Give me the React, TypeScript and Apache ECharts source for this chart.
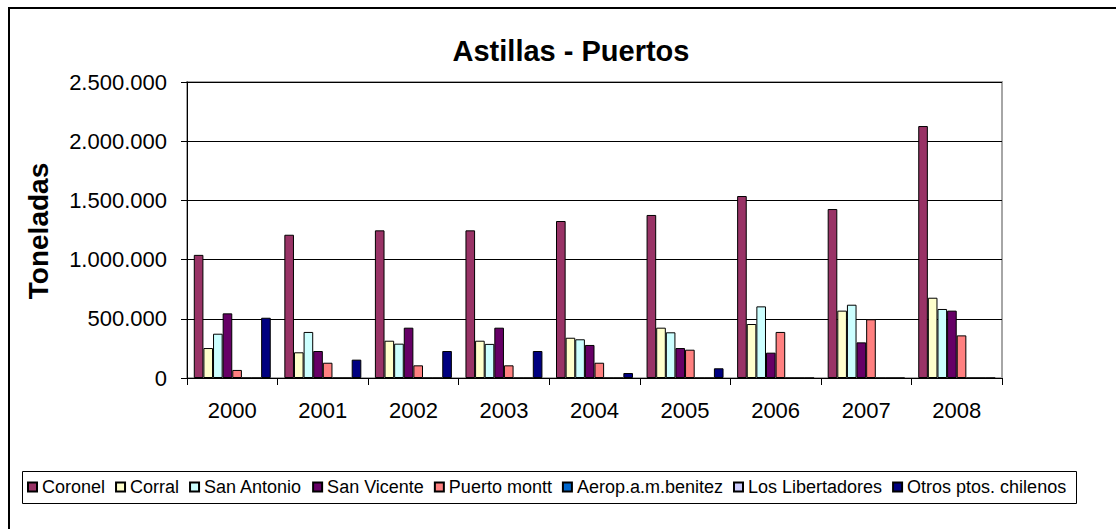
import React, { useEffect, useRef } from "react";
import * as echarts from "echarts";

const years = ["2000", "2001", "2002", "2003", "2004", "2005", "2006", "2007", "2008"];
const coronel = [1040000, 1210000, 1247000, 1247000, 1326000, 1377000, 1537000, 1427000, 2128000];
const corral = [253000, 217000, 315000, 315000, 340000, 425000, 456000, 569000, 678000];
const sanAntonio = [374000, 389000, 290000, 288000, 327000, 386000, 605000, 619000, 583000];
const sanVicente = [546000, 228000, 425000, 425000, 279000, 253000, 214000, 301000, 569000];
const puertoMontt = [68000, 129000, 107000, 107000, 129000, 239000, 389000, 496000, 360000];
const aerop = [0, 0, 0, 0, 0, 0, 0, 0, 0];
const losLibertadores = [0, 0, 0, 0, 0, 0, 0, 0, 0];
const otros = [509000, 155000, 228000, 228000, 42000, 82000, 0, 0, 0];

const seriesNames = [
  "Coronel",
  "Corral",
  "San Antonio",
  "San Vicente",
  "Puerto montt",
  "Aerop.a.m.benitez",
  "Los Libertadores",
  "Otros ptos. chilenos",
];
const seriesData = [coronel, corral, sanAntonio, sanVicente, puertoMontt, aerop, losLibertadores, otros];
const seriesColors = ["#993366", "#FFFFCC", "#CCFFFF", "#660066", "#FF8080", "#0066CC", "#CCCCFF", "#000080"];

const FONT = '"Liberation Sans", Arial, sans-serif';

function fmt(v: number): string {
  return String(Math.round(v)).replace(/\B(?=(\d{3})+(?!\d))/g, ".");
}

export default function App() {
  const ref = useRef<HTMLDivElement>(null);
  useEffect(() => {
    if (!ref.current) return;
    const chart = echarts.init(ref.current, undefined, { renderer: "svg" });
    chart.setOption({
      animation: false,
      backgroundColor: "#ffffff",
      textStyle: { fontFamily: FONT },
      title: {
        text: "Astillas - Puertos",
        left: 566,
        textAlign: "center",
        top: 31,
        textStyle: { fontFamily: FONT, fontSize: 29, fontWeight: "bold", color: "#000" },
      },
      grid: {
        left: 187,
        right: 114,
        top: 82,
        bottom: 151,
        show: true,
        borderColor: "#a6a6a6",
        borderWidth: 2,
        backgroundColor: "transparent",
      },
      legend: {
        left: 27,
        top: 478,
        itemWidth: 9,
        itemHeight: 9,
        itemGap: 10,
        icon: "rect",
        padding: 0,
        textStyle: { fontFamily: FONT, fontSize: 18, color: "#000" },
        data: seriesNames,
      },
      xAxis: {
        type: "category",
        data: years,
        axisLine: { lineStyle: { color: "#000", width: 1 } },
        axisTick: { show: true, length: 7, lineStyle: { color: "#000" } },
        axisLabel: { fontFamily: FONT, fontSize: 22, color: "#000", margin: 21 },
        splitLine: { show: false },
      },
      yAxis: {
        type: "value",
        min: 0,
        max: 2500000,
        interval: 500000,
        axisLine: { show: true, lineStyle: { color: "#000", width: 1 } },
        axisTick: { show: true, length: 6, lineStyle: { color: "#000" } },
        axisLabel: { fontFamily: FONT, fontSize: 22, color: "#000", margin: 20, formatter: (v: number) => fmt(v) },
        splitLine: { show: true, lineStyle: { color: "#000", width: 1 } },
      },
      series: seriesNames.map((name, i) => ({
        name,
        type: "bar",
        data: seriesData[i],
        barGap: "0%",
        barCategoryGap: "15%",
        itemStyle: { color: seriesColors[i], borderColor: "#000", borderWidth: 1 },
        emphasis: { disabled: true },
      })),
      graphic: [
        {
          type: "line",
          shape: { x1: 9, y1: 7, x2: 9, y2: 529 },
          style: { stroke: "#000", lineWidth: 2 },
        },
        {
          type: "line",
          shape: { x1: 8, y1: 8, x2: 1116, y2: 8 },
          style: { stroke: "#000", lineWidth: 2 },
        },
        {
          type: "rect",
          shape: { x: 22.5, y: 471.5, width: 1054, height: 32 },
          style: { fill: "transparent", stroke: "#000", lineWidth: 1 },
          z: 10,
        },
        {
          type: "text",
          x: 38,
          y: 231,
          rotation: Math.PI / 2,
          style: {
            text: "Toneladas",
            fontFamily: FONT,
            fontSize: 28,
            fontWeight: "bold",
            fill: "#000",
            textAlign: "center",
            textVerticalAlign: "middle",
          },
        },
      ],
    });
    return () => chart.dispose();
  }, []);
  return (
    <div
      ref={ref}
      style={{ position: "absolute", left: 0, top: 0, width: 1116, height: 529 }}
    />
  );
}
